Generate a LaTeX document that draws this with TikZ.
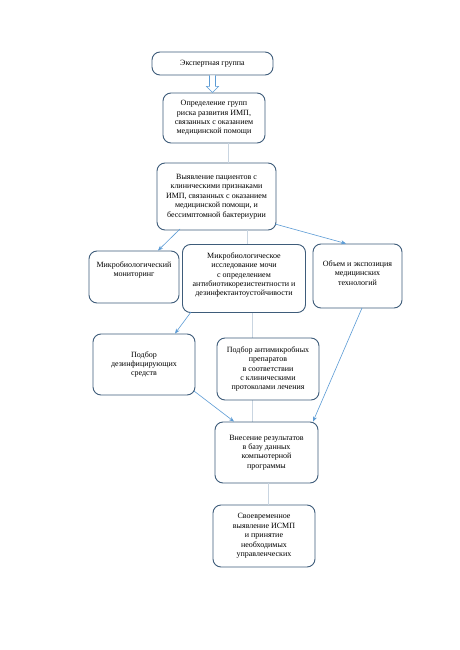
\documentclass[tikz,border=0pt]{standalone}
\usepackage{fontspec}
\setmainfont{Liberation Serif}
\usetikzlibrary{arrows.meta}
\definecolor{boxline}{HTML}{3E5C7A}
\definecolor{conn}{HTML}{5B9BD5}
\definecolor{lightconn}{HTML}{C9D5E1}
\tikzset{
  box/.style={draw=boxline, line width=0.9pt, rounded corners=8pt, fill=white, align=center,
    font=\fontsize{8}{9.4}\selectfont, inner sep=2pt},
  txt/.style={align=center, font=\fontsize{8}{9.4}\selectfont, inner sep=0pt},
  arr/.style={draw=conn, line width=0.6pt, -{Stealth[length=5pt,width=4pt]}},
  plain/.style={draw=lightconn, line width=0.6pt},
}
\begin{document}
\begin{tikzpicture}[x=1pt,y=-1pt]
\useasboundingbox (0,0) rectangle (459,650);
\fill[white] (0,0) rectangle (459,650);
% connector passing behind the box of antimicrobial selection
\coordinate (p4b) at (252,312);
\coordinate (p6) at (252,422);
\draw[plain] (p4b) -- (p6);

\node[box, minimum width=121pt, minimum height=23pt] (b1) at (212.5,63.5) {Экспертная группа};
\node[box, minimum width=102pt, minimum height=50pt] (b2) at (214,118) {Определение групп\\риска развития ИМП,\\связанных с оказанием\\медицинской помощи};
\node[box, minimum width=119pt, minimum height=67pt] (b3) at (216.5,196.5) {Выявление пациентов с\\клиническими признаками\\ИМП, связанных с оказанием\\медицинской помощи, и\\бессимптомной бактериурии};
\node[box, minimum width=90pt, minimum height=52pt] (b4a) at (134,277) {};
\node[txt] (t4a) at (134,270) {Микробиологический\\мониторинг};
\node[box, minimum width=123pt, minimum height=68pt] (b4b) at (244,278.5) {};
\node[txt] (t4b) at (244,275) {Микробиологическое\\исследование мочи\\с определением\\антибиотикорезистентности и\\дезинфектантоустойчивости};
\node[box, minimum width=89pt, minimum height=64pt] (b4c) at (357.5,276) {};
\node[txt] (t4c) at (357.5,273) {Объем и экспозиция\\медицинских\\технологий};
\node[box, minimum width=102pt, minimum height=61pt] (b5a) at (144,364.5) {Подбор\\дезинфицирующих\\средств};
\node[box, minimum width=102pt, minimum height=62pt] (b5b) at (268,369) {Подбор антимикробных\\препаратов\\в соответствии\\с клиническими\\протоколами лечения};
\node[box, minimum width=103pt, minimum height=61pt] (b6) at (266.5,452.5) {Внесение результатов\\в базу данных\\компьютерной\\программы};
\node[box, minimum width=102pt, minimum height=62pt] (b7) at (264,536) {Своевременное\\выявление ИСМП\\и принятие\\необходимых\\управленческих};

% hollow block arrow b1 -> b2
\draw[draw=conn, fill=white, line width=0.6pt]
  ([xshift=-3pt]b1.south) -- ([xshift=-3pt,yshift=-11pt]b1.south) -- ([xshift=-6pt,yshift=-11pt]b1.south)
  -- (b2.north -| b1.south) -- ([xshift=6pt,yshift=-11pt]b1.south) -- ([xshift=3pt,yshift=-11pt]b1.south)
  -- ([xshift=3pt]b1.south);

\draw[plain] (b2.south -| 228,0) -- (b3.north -| 228,0);
\draw[arr] (180,229) -- (b4a.north -| 158,0);
\draw[plain] (b3.south -| 247,0) -- (b4b.north -| 247,0);
\draw[arr] (275,224) -- (b4c.north -| 346,0);
\draw[arr] (191,312) -- (b5a.north -| 175,0);
\draw[arr] (194,391) -- (b6.north -| 234,0);
\draw[arr] (362,308) -- (b6.north -| 313,0);
\draw[plain] (b6.south -| 268,0) -- (b7.north -| 268,0);
\end{tikzpicture}
\end{document}
